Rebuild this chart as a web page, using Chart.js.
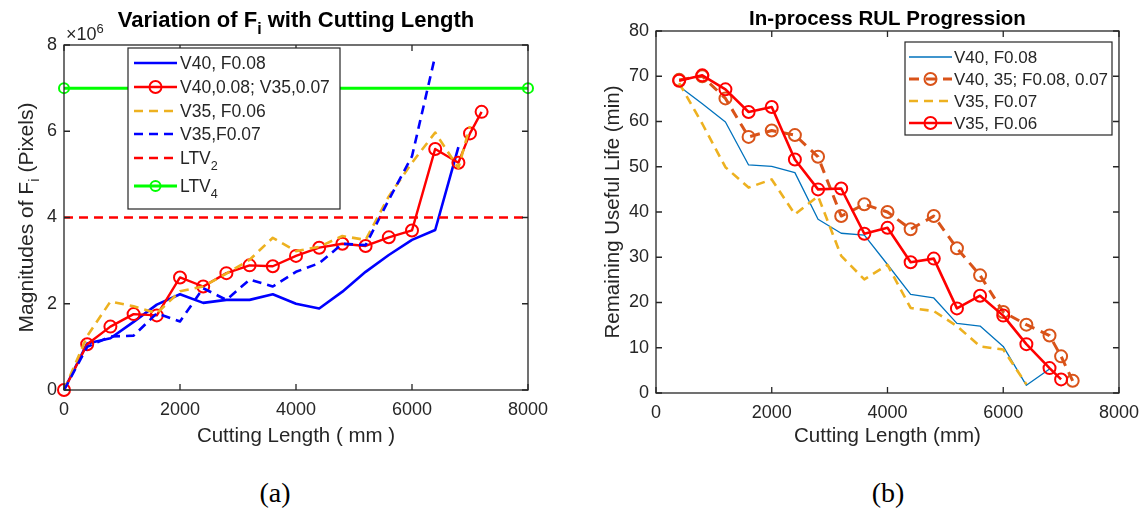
<!DOCTYPE html>
<html>
<head>
<meta charset="utf-8">
<script src="https://cdn.jsdelivr.net/npm/chart.js@4.4.0/dist/chart.umd.min.js"></script>
<style>
  html, body { margin: 0; padding: 0; background: #fff; width: 1148px; height: 513px; overflow: hidden; }
  #wrap { position: relative; width: 1148px; height: 513px; }
  .panel { position: absolute; top: 0; width: 574px; height: 470px; }
  #pa { left: 0; }
  #pb { left: 574px; }
  .cap { position: absolute; top: 479px; line-height: 1; font-family: "Liberation Serif", "Times New Roman", serif;
         font-size: 28px; color: #000; transform: translateX(-50%); }
</style>
</head>
<body>
<div id="wrap">
  <div class="panel" id="pa"><canvas id="ca" width="574" height="470"></canvas></div>
  <div class="panel" id="pb"><canvas id="cb" width="574" height="470"></canvas></div>
  <div class="cap" style="left:275px">(a)</div>
  <div class="cap" style="left:888px">(b)</div>
</div>
<script>
// ---------- Panel (a): magnitude of F_i (x10^6 pixels) vs cutting length (mm) ----------
const lenV40F008 = [0, 400, 800, 1200, 1600, 2000, 2400, 2800, 3200, 3600, 4000, 4400, 4800, 5200, 5600, 6000, 6400, 6800];
const fiV40F008  = [0, 1.08, 1.20, 1.58, 1.98, 2.22, 2.02, 2.09, 2.09, 2.22, 2.00, 1.89, 2.28, 2.74, 3.13, 3.48, 3.71, 5.63];

const lenMixed = [0, 400, 800, 1200, 1600, 2000, 2400, 2800, 3200, 3600, 4000, 4400, 4800, 5200, 5600, 6000, 6400, 6800, 7000, 7200];
const fiMixed  = [0, 1.06, 1.47, 1.76, 1.73, 2.61, 2.40, 2.71, 2.89, 2.87, 3.11, 3.30, 3.39, 3.34, 3.54, 3.70, 5.59, 5.27, 5.95, 6.45];

const lenV35F006 = [0, 400, 800, 1200, 1600, 2000, 2400, 2800, 3200, 3600, 4000, 4400, 4800, 5200, 5600, 6000, 6400, 6800, 7000];
const fiV35F006  = [0, 1.25, 2.05, 1.94, 1.78, 2.29, 2.40, 2.70, 3.02, 3.53, 3.22, 3.32, 3.57, 3.48, 4.49, 5.27, 5.97, 5.15, 6.12];

const lenV35F007 = [0, 400, 800, 1200, 1600, 2000, 2400, 2800, 3200, 3600, 4000, 4400, 4800, 5200, 5600, 6000, 6400];
const fiV35F007  = [0, 1.00, 1.24, 1.26, 1.78, 1.59, 2.36, 2.09, 2.56, 2.40, 2.74, 2.94, 3.39, 3.36, 4.41, 5.42, 7.75];

const ltvLen = [0, 8000];
const ltv2   = [4, 4];
const ltv4   = [7, 7];

const ticksA_x = [0, 2000, 4000, 6000, 8000];
const ticksA_y = [0, 2, 4, 6, 8];

// ---------- Panel (b): remaining useful life (min) vs cutting length (mm) ----------
const lenRulV40F008 = [400, 800, 1200, 1600, 2000, 2400, 2800, 3200, 3600, 4000, 4400, 4800, 5200, 5600, 6000, 6400, 6800];
const rulV40F008    = [67.8, 63.9, 59.9, 50.4, 50.1, 48.7, 38.4, 35.3, 34.9, 28.4, 21.8, 21.0, 15.4, 14.8, 10.3, 1.7, 5.3];

const lenRulMixed = [400, 800, 1200, 1600, 2000, 2400, 2800, 3200, 3600, 4000, 4400, 4800, 5200, 5600, 6000, 6400, 6800, 7000, 7200];
const rulMixed    = [69.2, 70.0, 65.1, 56.6, 58.0, 57.0, 52.2, 39.1, 41.7, 40.0, 36.2, 39.1, 32.0, 26.0, 17.9, 15.1, 12.7, 8.1, 2.7];

const lenRulV35F007 = [400, 800, 1200, 1600, 2000, 2400, 2800, 3200, 3600, 4000, 4400, 4800, 5200, 5600, 6000, 6400];
const rulV35F007    = [68.5, 59.5, 49.9, 45.4, 47.2, 39.5, 43.5, 30.3, 25.1, 28.3, 18.8, 18.1, 14.8, 10.3, 9.6, 1.9];

const lenRulV35F006 = [400, 800, 1200, 1600, 2000, 2400, 2800, 3200, 3600, 4000, 4400, 4800, 5200, 5600, 6000, 6400, 6800, 7000];
const rulV35F006    = [69.0, 70.2, 67.1, 62.1, 63.2, 51.6, 45.0, 45.2, 35.2, 36.5, 28.9, 29.7, 18.7, 21.5, 17.1, 10.8, 5.5, 3.0];

const ticksB_x = [0, 2000, 4000, 6000, 8000];
const ticksB_y = [0, 10, 20, 30, 40, 50, 60, 70, 80];

// ---------- helpers ----------
const FONT = '"Liberation Sans", Arial, Helvetica, sans-serif';
const INK = '#262626';

function pairs(xs, ys) { return xs.map((x, i) => ({ x: x, y: ys[i] })); }

// split "F_i" / "10^6" into plain, subscript and superscript runs
function parseRich(s) {
  const parts = []; const re = /([_^])(\w)/g; let last = 0, m;
  while ((m = re.exec(s))) {
    if (m.index > last) parts.push({ t: s.slice(last, m.index) });
    parts.push({ t: m[2], sub: m[1] === '_', sup: m[1] === '^' });
    last = re.lastIndex;
  }
  if (last < s.length) parts.push({ t: s.slice(last) });
  return parts;
}

// draw text with sub/superscripts; y is the visual middle of the capitals
function drawRich(ctx, text, x, y, align, size, weight) {
  const parts = parseRich(text);
  const fontFor = p => `${weight || 'normal'} ${(p.sub || p.sup) ? size * 0.72 : size}px ${FONT}`;
  let total = 0;
  parts.forEach(p => { ctx.font = fontFor(p); p.w = ctx.measureText(p.t).width; total += p.w; });
  let cx = align === 'center' ? x - total / 2 : (align === 'right' ? x - total : x);
  const base = y + size * 0.36;
  ctx.textBaseline = 'alphabetic';
  ctx.textAlign = 'left';
  parts.forEach(p => {
    ctx.font = fontFor(p);
    const dy = p.sub ? size * 0.32 : (p.sup ? -size * 0.42 : 0);
    ctx.fillText(p.t, cx, base + dy);
    cx += p.w;
  });
}

// box, inward ticks on all four sides, titles and boxed legend
const framePlugin = {
  id: 'frame',
  afterDatasetsDraw(chart, args, o) {
    const { ctx, chartArea: a, scales } = chart;
    ctx.save();
    ctx.strokeStyle = INK; ctx.lineWidth = 1.3; ctx.setLineDash([]);
    ctx.strokeRect(a.left, a.top, a.right - a.left, a.bottom - a.top);
    const tl = 6;
    ctx.beginPath();
    scales.x.ticks.forEach(t => {
      const p = scales.x.getPixelForValue(t.value);
      ctx.moveTo(p, a.bottom); ctx.lineTo(p, a.bottom - tl);
      ctx.moveTo(p, a.top); ctx.lineTo(p, a.top + tl);
    });
    scales.y.ticks.forEach(t => {
      const p = scales.y.getPixelForValue(t.value);
      ctx.moveTo(a.left, p); ctx.lineTo(a.left + tl, p);
      ctx.moveTo(a.right, p); ctx.lineTo(a.right - tl, p);
    });
    ctx.stroke();

    ctx.fillStyle = '#000';
    if (o.title) drawRich(ctx, o.title, (a.left + a.right) / 2, o.titleY, 'center', o.titleSize, 'bold');
    ctx.fillStyle = INK;
    if (o.exponent) drawRich(ctx, o.exponent, o.exponentX, o.exponentY, 'left', 18);
    if (o.yTitle) {
      ctx.save();
      ctx.translate(o.yTitleX, (a.top + a.bottom) / 2);
      ctx.rotate(-Math.PI / 2);
      drawRich(ctx, o.yTitle, 0, 0, 'center', o.yTitleSize);
      ctx.restore();
    }

    // legend
    const L = o.legend;
    if (L) {
      ctx.fillStyle = '#fff';
      ctx.fillRect(L.x, L.y, L.w, L.h);
      ctx.strokeStyle = INK; ctx.lineWidth = 1.2;
      ctx.strokeRect(L.x, L.y, L.w, L.h);
      chart.data.datasets.forEach((ds, i) => {
        const ry = L.rows[i];
        ctx.save();
        ctx.strokeStyle = ds.borderColor;
        ctx.lineWidth = ds.borderWidth;
        ctx.setLineDash(ds.borderDash || []);
        ctx.beginPath(); ctx.moveTo(L.lineX0, ry); ctx.lineTo(L.lineX1, ry); ctx.stroke();
        if (ds.pointRadius > 0) {
          ctx.setLineDash([]);
          ctx.lineWidth = ds.pointBorderWidth;
          ctx.strokeStyle = ds.pointBorderColor;
          ctx.beginPath(); ctx.arc((L.lineX0 + L.lineX1) / 2, ry, ds.pointRadius, 0, Math.PI * 2); ctx.stroke();
        }
        ctx.restore();
        ctx.fillStyle = INK;
        drawRich(ctx, ds.label, L.textX, ry, 'left', L.size);
      });
    }
    ctx.restore();
  }
};

function axisCommon(min, max, step, pad, callbackFit) {
  return {
    type: 'linear', min: min, max: max,
    grid: { display: false, drawTicks: false },
    border: { display: false },
    ticks: { stepSize: step, padding: pad, color: INK, font: { family: FONT, size: 18 },
             maxRotation: 0, autoSkip: false, callback: v => String(v) },
    afterFit: callbackFit
  };
}

function lineSet(label, xs, ys, color, width, dash, marker, order) {
  return {
    label: label, data: pairs(xs, ys), borderColor: color, borderWidth: width,
    borderDash: dash || [], backgroundColor: color,
    pointRadius: marker ? marker : 0, pointBorderWidth: 2, pointBorderColor: color,
    pointBackgroundColor: 'rgba(0,0,0,0)', pointStyle: 'circle', order: order,
    fill: false, tension: 0, clip: false
  };
}

const base = {
  responsive: false, animation: false, devicePixelRatio: 1,
  events: [],
  elements: { line: { borderJoinStyle: 'round', borderCapStyle: 'butt' } }
};

// ---------- chart (a) ----------
new Chart(document.getElementById('ca'), {
  type: 'line',
  data: {
    datasets: [
      lineSet('V40, F0.08', lenV40F008, fiV40F008, '#0000FF', 2.6, null, 0, 6),
      lineSet('V40,0.08; V35,0.07', lenMixed, fiMixed, '#FF0000', 2.4, null, 6, 5),
      lineSet('V35, F0.06', lenV35F006, fiV35F006, '#EDB120', 2.6, [9, 6], 0, 4),
      lineSet('V35,F0.07', lenV35F007, fiV35F007, '#0000FF', 2.6, [9, 6], 0, 3),
      lineSet('LTV_2', ltvLen, ltv2, '#FF0000', 2.4, [9, 6], 0, 2),
      lineSet('LTV_4', ltvLen, ltv4, '#00FF00', 3, null, 5, 1)
    ]
  },
  options: Object.assign({}, base, {
    layout: { padding: { left: 0, right: 46, top: 45, bottom: 0 } },
    plugins: {
      legend: { display: false }, tooltip: { enabled: false },
      frame: {
        title: 'Variation of F_i with Cutting Length', titleY: 19, titleSize: 22,
        exponent: '×10^6', exponentX: 66, exponentY: 34,
        yTitle: 'Magnitudes of F_i (Pixels)', yTitleX: 25, yTitleSize: 21,
        legend: { x: 128, y: 48, w: 212, h: 161, rows: [63, 87, 111, 134, 158, 186],
                  lineX0: 134, lineX1: 177, textX: 180, size: 17.5 }
      }
    },
    scales: {
      x: Object.assign(axisCommon(0, 8000, 2000, 9, s => { s.height = 80; }), {
        afterBuildTicks: s => { s.ticks = ticksA_x.map(v => ({ value: v })); },
        title: { display: true, text: 'Cutting Length ( mm )', color: INK,
                 font: { family: FONT, size: 20.5 }, padding: { top: 0, bottom: 21.7 } }
      }),
      y: Object.assign(axisCommon(0, 8, 2, 7, s => { s.width = 64; }), {
        afterBuildTicks: s => { s.ticks = ticksA_y.map(v => ({ value: v })); }
      })
    }
  }),
  plugins: [framePlugin]
});

// ---------- chart (b) ----------
new Chart(document.getElementById('cb'), {
  type: 'line',
  data: {
    datasets: [
      lineSet('V40, F0.08', lenRulV40F008, rulV40F008, '#0072BD', 1.3, null, 0, 4),
      lineSet('V40, 35; F0.08, 0.07', lenRulMixed, rulMixed, '#D95319', 3, [10, 7], 6, 3),
      lineSet('V35, F0.07', lenRulV35F007, rulV35F007, '#EDB120', 2.6, [9, 6], 0, 2),
      lineSet('V35, F0.06', lenRulV35F006, rulV35F006, '#FF0000', 2.6, null, 6, 1)
    ]
  },
  options: Object.assign({}, base, {
    layout: { padding: { left: 0, right: 25, top: 31, bottom: 0 } },
    plugins: {
      legend: { display: false }, tooltip: { enabled: false },
      frame: {
        title: 'In-process RUL Progression', titleY: 18, titleSize: 20.5,
        legend: { x: 331, y: 42, w: 207, h: 93, rows: [57, 79, 101, 123],
                  lineX0: 335, lineX1: 378, textX: 380, size: 17 }
      }
    },
    scales: {
      x: Object.assign(axisCommon(0, 8000, 2000, 9, s => { s.height = 77; }), {
        afterBuildTicks: s => { s.ticks = ticksB_x.map(v => ({ value: v })); },
        title: { display: true, text: 'Cutting Length (mm)', color: INK,
                 font: { family: FONT, size: 20.5 }, padding: { top: 0, bottom: 21.7 } }
      }),
      y: Object.assign(axisCommon(0, 80, 10, 7, s => { s.width = 82; }), {
        afterBuildTicks: s => { s.ticks = ticksB_y.map(v => ({ value: v })); },
        title: { display: true, text: 'Remaining Useful Life (min)', color: INK,
                 font: { family: FONT, size: 20.5 }, padding: { top: 26.7, bottom: 0 } }
      })
    }
  }),
  plugins: [framePlugin]
});
</script>
</body>
</html>
